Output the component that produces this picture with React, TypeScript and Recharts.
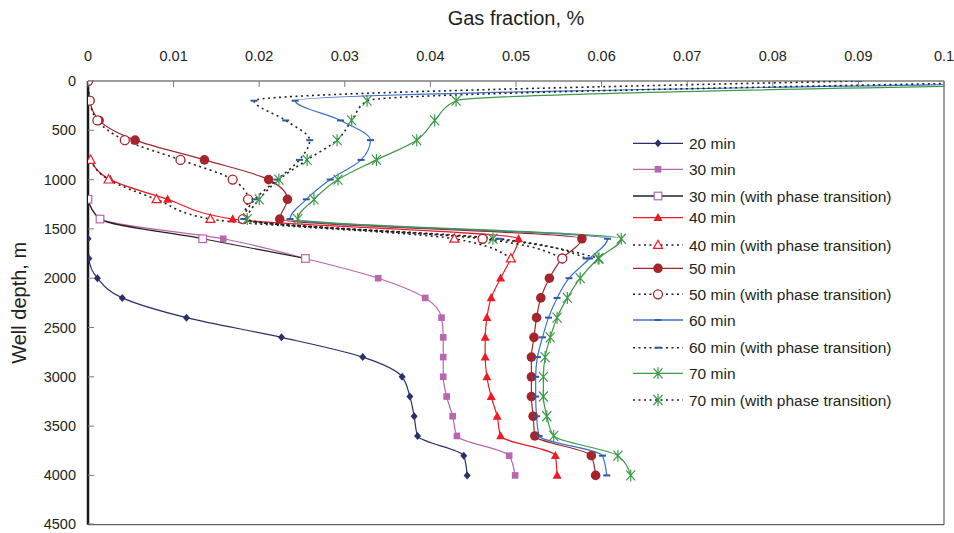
import { LineChart, Line, XAxis, YAxis, Legend, ReferenceLine } from 'recharts';

// depth of every sample, m
const depths = [0, 200, 400, 600, 800, 1000, 1200, 1400, 1600, 1800, 2000, 2200, 2400, 2600, 2800, 3000, 3200, 3400, 3600, 3800, 4000];

// gas fraction, % (null = no sample at that depth)
const min20 = [null, null, null, null, null, null, null, null, 0, 0.0001, 0.0011, 0.004, 0.0115, 0.0226, 0.0321, 0.0367, 0.0376, 0.0381, 0.0385, 0.0439, 0.0443];
const min30 = [null, null, null, null, null, null, 0, 0.0015, 0.0158, 0.0254, 0.0339, 0.0394, 0.0413, 0.0415, 0.0415, 0.0415, 0.0419, 0.0426, 0.0431, 0.0492, 0.0499];
const min30Phase = [null, null, null, null, null, null, 0, 0.0014, 0.0134, 0.0254, null, null, null, null, null, null, null, null, null, null, null];
const min40 = [null, null, null, null, 0.0003, 0.0026, 0.0093, 0.0169, 0.0503, 0.0494, 0.0482, 0.0471, 0.0466, 0.0464, 0.0464, 0.0466, 0.0471, 0.0478, 0.0482, 0.0546, 0.0548];
const min40Phase = [null, null, null, null, 0.0003, 0.0024, 0.008, 0.0143, 0.0428, 0.0494, null, null, null, null, null, null, null, null, null, null, null];
const min50 = [0, 0.0002, 0.0013, 0.0055, 0.0136, 0.0211, 0.0233, 0.0224, 0.0577, 0.0554, 0.0539, 0.0529, 0.0524, 0.0521, 0.0518, 0.0518, 0.0518, 0.052, 0.0522, 0.0588, 0.0593];
const min50Phase = [0, 0.0002, 0.0011, 0.0043, 0.0108, 0.0169, 0.0187, 0.0181, 0.0461, 0.0554, null, null, null, null, null, null, null, null, null, null, null];
const min60 = [0.128, 0.0242, 0.0295, 0.033, 0.0319, 0.0283, 0.0255, 0.0236, 0.0607, 0.0586, 0.0562, 0.0548, 0.0538, 0.0531, 0.0525, 0.0523, 0.0523, 0.0524, 0.0527, 0.0601, 0.0606];
const min60Phase = [0.09, 0.0194, 0.0231, 0.0259, 0.0247, 0.0221, 0.0195, 0.0182, 0.048, 0.0582, null, null, null, null, null, null, null, null, null, null, null];
const min70 = [0.137, 0.043, 0.0405, 0.0384, 0.0337, 0.0292, 0.0264, 0.0245, 0.0623, 0.0596, 0.0575, 0.056, 0.0548, 0.054, 0.0534, 0.0532, 0.0532, 0.0536, 0.0544, 0.0619, 0.0634];
const min70Phase = [0.1157, 0.0326, 0.0308, 0.0291, 0.0256, 0.0223, 0.02, 0.0186, 0.0473, 0.0597, null, null, null, null, null, null, null, null, null, null, null];

const xTicks = [0, 0.01, 0.02, 0.03, 0.04, 0.05, 0.06, 0.07, 0.08, 0.09, 0.1];
const yTicks = [0, 500, 1000, 1500, 2000, 2500, 3000, 3500, 4000, 4500];

const INK = '#231f20';
const DOTTED = '2 3.5';

const series = [
  { key: 's20', name: '20 min', values: min20, stroke: '#2b2f6b', marker: 'diamond', mColor: '#2b2f6b' },
  { key: 's30', name: '30 min', values: min30, stroke: '#b866b0', marker: 'square', mColor: '#b866b0' },
  { key: 's30p', name: '30 min (with phase transition)', values: min30Phase, stroke: INK, marker: 'squareOpen', mColor: '#b866b0' },
  { key: 's40', name: '40 min', values: min40, stroke: '#ed1c24', marker: 'triangle', mColor: '#ed1c24' },
  { key: 's40p', name: '40 min (with phase transition)', values: min40Phase, stroke: INK, dash: DOTTED, marker: 'triangleOpen', mColor: '#ed1c24' },
  { key: 's50', name: '50 min', values: min50, stroke: '#a4262c', marker: 'circle', mColor: '#a4262c' },
  { key: 's50p', name: '50 min (with phase transition)', values: min50Phase, stroke: INK, dash: DOTTED, marker: 'circleOpen', mColor: '#a4262c' },
  { key: 's60', name: '60 min', values: min60, stroke: '#3b72c6', marker: 'dash', mColor: '#2a5aa8' },
  { key: 's60p', name: '60 min (with phase transition)', values: min60Phase, stroke: INK, dash: DOTTED, marker: 'dash', mColor: '#2a5aa8' },
  { key: 's70', name: '70 min', values: min70, stroke: '#3e9a4a', marker: 'star', mColor: '#3e9a4a' },
  { key: 's70p', name: '70 min (with phase transition)', values: min70Phase, stroke: INK, dash: DOTTED, marker: 'star', mColor: '#3e9a4a' },
];

const rows = depths.map((depth, i) => {
  const row: Record<string, number | null> = { depth };
  series.forEach((s) => {
    row[s.key] = s.values[i];
  });
  return row;
});

const Marker = ({ kind, x, y, color }: { kind: string; x: number; y: number; color: string }) => {
  switch (kind) {
    case 'diamond':
      return <path d={`M${x},${y - 4}L${x + 3.5},${y}L${x},${y + 4}L${x - 3.5},${y}Z`} fill={color} />;
    case 'square':
      return <rect x={x - 3.3} y={y - 3.3} width={6.6} height={6.6} fill={color} />;
    case 'squareOpen':
      return <rect x={x - 3.8} y={y - 3.8} width={7.6} height={7.6} fill="#fff" stroke={color} strokeWidth={1.2} />;
    case 'triangle':
      return <path d={`M${x},${y - 4.8}L${x + 4.5},${y + 3.4}L${x - 4.5},${y + 3.4}Z`} fill={color} />;
    case 'triangleOpen':
      return <path d={`M${x},${y - 4.8}L${x + 4.5},${y + 3.4}L${x - 4.5},${y + 3.4}Z`} fill="#fff" stroke={color} strokeWidth={1.2} />;
    case 'circle':
      return <circle cx={x} cy={y} r={4.8} fill={color} />;
    case 'circleOpen':
      return <circle cx={x} cy={y} r={4.5} fill="#fff" stroke={color} strokeWidth={1.3} />;
    case 'dash':
      return <rect x={x - 3.5} y={y - 1} width={7} height={2} fill={color} />;
    case 'star':
      return (
        <path
          d={`M${x - 4.5},${y - 5}L${x + 4.5},${y + 5}M${x - 4.5},${y + 5}L${x + 4.5},${y - 5}M${x},${y - 6}L${x},${y + 6}`}
          stroke={color}
          strokeWidth={1.2}
          fill="none"
        />
      );
    default:
      return null;
  }
};

const makeDot = (kind: string, color: string) => (props: any) => {
  const { cx, cy, index } = props;
  if (cx == null || cy == null || Number.isNaN(cx) || Number.isNaN(cy)) return <g key={`e-${index}`} />;
  return (
    <g key={`d-${index}`}>
      <Marker kind={kind} x={cx} y={cy} color={color} />
    </g>
  );
};

const fmtX = (v: number) => String(+v.toFixed(2));

const XTick = (props: any) => {
  const { x, y, payload } = props;
  const axisY = y + 20;
  return (
    <g>
      <line x1={x} x2={x} y1={axisY} y2={axisY + 6} stroke="#7a7a7a" />
      <text x={x} y={y} textAnchor="middle" fontSize={14.5} fill={INK}>
        {fmtX(payload.value)}
      </text>
    </g>
  );
};

const YTick = (props: any) => {
  const { x, y, payload } = props;
  const axisX = x + 12;
  return (
    <g>
      <line x1={axisX} x2={axisX + 6} y1={y} y2={y} stroke="#7a7a7a" />
      <text x={x} y={y + 5} textAnchor="end" fontSize={14.5} fill={INK}>
        {payload.value}
      </text>
    </g>
  );
};

const legendRows = [18.3, 44.3, 71, 92.7, 120, 143.3, 169.3, 195, 222.7, 248.3, 275];

const LegendBox = () => (
  <svg width={300} height={290} style={{ display: 'block' }}>
    {series.map((s, i) => {
      const y = legendRows[i];
      return (
        <g key={s.key}>
          <line x1={13} x2={63} y1={y} y2={y} stroke={s.stroke} strokeWidth={s.dash ? 1.6 : 1.3} strokeDasharray={s.dash} />
          <Marker kind={s.marker} x={38} y={y} color={s.mColor} />
          <text x={69} y={y + 5.5} fontSize={15.5} fill={INK}>
            {s.name}
          </text>
        </g>
      );
    })}
  </svg>
);

export default function App() {
  return (
    <div
      style={{
        position: 'absolute',
        left: 0,
        top: 0,
        width: 954,
        height: 533,
        background: '#fff',
        fontFamily: '"Liberation Sans", Arial, sans-serif',
      }}
    >
      <LineChart width={954} height={533} data={rows} layout="vertical" margin={{ top: 6, right: 10, bottom: 8.3, left: 8 }}>
        <XAxis
          type="number"
          orientation="top"
          domain={[0, 0.1]}
          ticks={xTicks}
          allowDataOverflow
          height={75}
          tickSize={0}
          tickMargin={20}
          tick={<XTick />}
          axisLine={{ stroke: '#3c3c3c' }}
          label={{ value: 'Gas fraction, %', position: 'insideTop', offset: 5, fontSize: 20, fill: INK }}
        />
        <YAxis
          type="number"
          dataKey="depth"
          domain={[0, 4500]}
          ticks={yTicks}
          allowDataOverflow
          width={80}
          tickSize={0}
          tickMargin={12}
          tick={<YTick />}
          axisLine={{ stroke: '#1a1a1a', strokeWidth: 2.5 }}
          label={{
            value: 'Well depth, m',
            angle: -90,
            position: 'insideLeft',
            offset: 11,
            fontSize: 20,
            fill: INK,
            style: { textAnchor: 'middle' },
          }}
        />
        <ReferenceLine x={0.1} stroke="#3c3c3c" />
        <ReferenceLine y={4500} stroke="#3c3c3c" />
        <Legend
          layout="horizontal"
          verticalAlign="middle"
          align="center"
          wrapperStyle={{ left: 620, top: 125, width: 300, height: 290 }}
          content={() => <LegendBox />}
        />
        {series.map((s) => (
          <Line
            key={s.key}
            dataKey={s.key}
            name={s.name}
            type="monotoneY"
            stroke={s.stroke}
            strokeWidth={s.dash ? 1.6 : 1.2}
            strokeDasharray={s.dash}
            dot={makeDot(s.marker, s.mColor)}
            activeDot={false}
            isAnimationActive={false}
          />
        ))}
      </LineChart>
    </div>
  );
}
